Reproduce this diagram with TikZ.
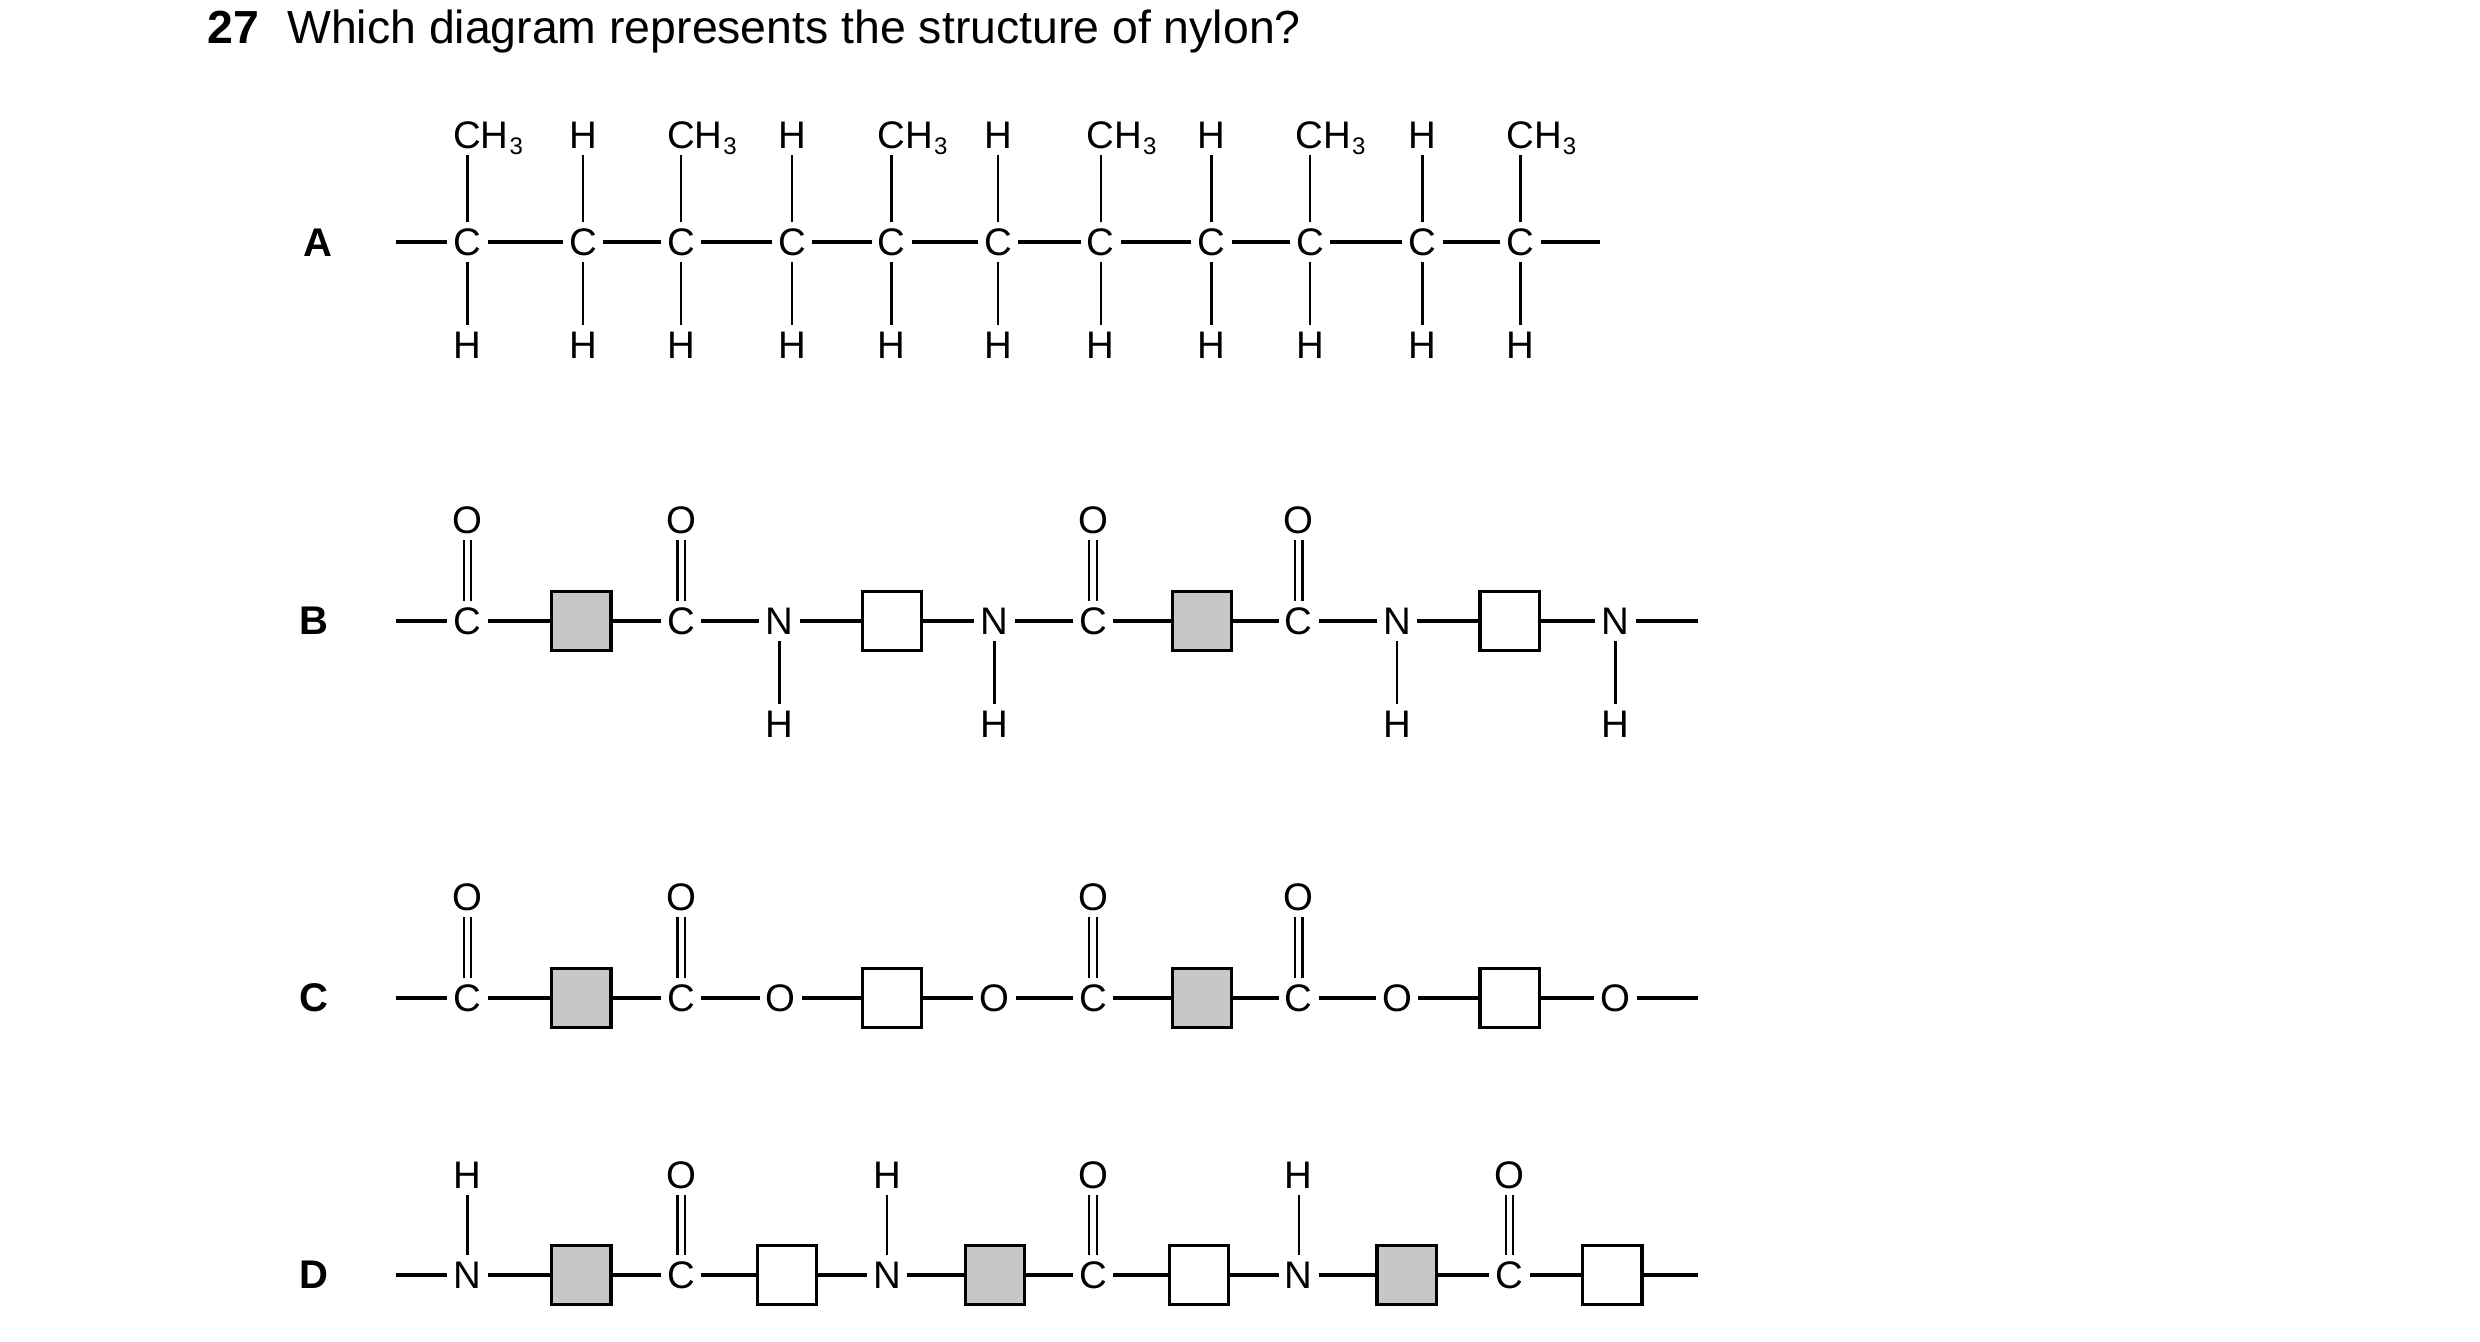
\documentclass[tikz,border=0pt]{standalone}
\usepackage{fontspec}
\setmainfont{Liberation Sans}
\newcommand{\subthree}{\kern0.5pt{\fontsize{15}{15}\selectfont\raisebox{-4pt}{3}}}
\begin{document}
\begin{tikzpicture}[x=0.99pt,y=-0.99pt,
 atom/.style={inner sep=0pt,outer sep=4pt,font=\fontsize{24}{24}\selectfont,text height=17pt,text depth=0pt,minimum width=14pt},
 lab/.style={font=\fontsize{25}{25}\selectfont\bfseries,inner sep=0pt},
 hb/.style={line width=2.6pt},
 vb/.style={line width=1.6pt},
 db/.style={double,double distance=3.2pt,line width=1.3pt},
 gbox/.style={draw,line width=2pt,fill=black!22,minimum size=37pt,inner sep=0pt},
 wbox/.style={draw,line width=2pt,fill=white,minimum size=37pt,inner sep=0pt}]
\useasboundingbox (0,0) rectangle (1565.7,847.2);
\node[anchor=west,inner sep=0pt,font=\fontsize{29}{29}\selectfont] (title) at (131,20) {\textbf{27}\hspace{0.6em}Which diagram represents the structure of nylon?};
% Row A
\node[lab] (la) at (201,153) {A};
\coordinate (as) at (250,153); \coordinate (ae) at (1010,153);
\foreach \x [count=\i] in {295,368,430,500,563,630,695,765,827,898,960}{
  \node[atom] (a\i) at (\x,153) {C};
  \node[atom] (ab\i) at (\x,218) {H};
  \draw[vb] (a\i) -- (ab\i);
}
\foreach \i in {1,3,5,7,9,11}{
  \node[atom,anchor=center] (at\i) at ([xshift=13pt]a\i.center |- 0,85) {CH\subthree};
  \draw[vb] (a\i) -- (a\i |- at\i.south);
}
\foreach \i in {2,4,6,8,10}{
  \node[atom] (at\i) at (a\i |- 0,85) {H};
  \draw[vb] (a\i) -- (at\i);
}
\draw[hb] (as) -- (a1);
\foreach \i [evaluate=\i as \j using int(\i+1)] in {1,...,10}{\draw[hb] (a\i) -- (a\j);}
\draw[hb] (a11) -- (ae);
% Row B
\node[lab] (lb) at (198,392) {B};
\coordinate (bs) at (250,392); \coordinate (be) at (1072,392);
\node[atom] (b1) at (295,392) {C};
\node[gbox] (b2) at (367,392) {};
\node[atom] (b3) at (430,392) {C};
\node[atom] (b4) at (492,392) {N};
\node[wbox] (b5) at (563,392) {};
\node[atom] (b6) at (628,392) {N};
\node[atom] (b7) at (690,392) {C};
\node[gbox] (b8) at (759,392) {};
\node[atom] (b9) at (820,392) {C};
\node[atom] (b10) at (882,392) {N};
\node[wbox] (b11) at (953,392) {};
\node[atom] (b12) at (1020,392) {N};
\draw[hb] (bs) -- (b1);
\foreach \i [evaluate=\i as \j using int(\i+1)] in {1,...,11}{\draw[hb] (b\i) -- (b\j);}
\draw[hb] (b12) -- (be);
\foreach \i in {1,3,7,9}{\node[atom] (bo\i) at (b\i |- 0,328) {O}; \draw[db] (b\i) -- (bo\i);}
\foreach \i in {4,6,10,12}{\node[atom] (bh\i) at (b\i |- 0,457) {H}; \draw[vb] (b\i) -- (bh\i);}
% Row C
\node[lab] (lc) at (198,630) {C};
\coordinate (cs) at (250,630); \coordinate (ce) at (1072,630);
\node[atom] (c1) at (295,630) {C};
\node[gbox] (c2) at (367,630) {};
\node[atom] (c3) at (430,630) {C};
\node[atom] (c4) at (493,630) {O};
\node[wbox] (c5) at (563,630) {};
\node[atom] (c6) at (628,630) {O};
\node[atom] (c7) at (690,630) {C};
\node[gbox] (c8) at (759,630) {};
\node[atom] (c9) at (820,630) {C};
\node[atom] (c10) at (882,630) {O};
\node[wbox] (c11) at (953,630) {};
\node[atom] (c12) at (1020,630) {O};
\draw[hb] (cs) -- (c1);
\foreach \i [evaluate=\i as \j using int(\i+1)] in {1,...,11}{\draw[hb] (c\i) -- (c\j);}
\draw[hb] (c12) -- (ce);
\foreach \i in {1,3,7,9}{\node[atom] (co\i) at (c\i |- 0,566) {O}; \draw[db] (c\i) -- (co\i);}
% Row D
\node[lab] (ld) at (198,805) {D};
\coordinate (ds) at (250,805); \coordinate (de) at (1072,805);
\node[atom] (d1) at (295,805) {N};
\node[gbox] (d2) at (367,805) {};
\node[atom] (d3) at (430,805) {C};
\node[wbox] (d4) at (497,805) {};
\node[atom] (d5) at (560,805) {N};
\node[gbox] (d6) at (628,805) {};
\node[atom] (d7) at (690,805) {C};
\node[wbox] (d8) at (757,805) {};
\node[atom] (d9) at (820,805) {N};
\node[gbox] (d10) at (888,805) {};
\node[atom] (d11) at (953,805) {C};
\node[wbox] (d12) at (1018,805) {};
\draw[hb] (ds) -- (d1);
\foreach \i [evaluate=\i as \j using int(\i+1)] in {1,...,11}{\draw[hb] (d\i) -- (d\j);}
\draw[hb] (d12) -- (de);
\foreach \i in {1,5,9}{\node[atom] (dh\i) at (d\i |- 0,742) {H}; \draw[vb] (d\i) -- (dh\i);}
\foreach \i in {3,7,11}{\node[atom] (do\i) at (d\i |- 0,742) {O}; \draw[db] (d\i) -- (do\i);}
\end{tikzpicture}
\end{document}
